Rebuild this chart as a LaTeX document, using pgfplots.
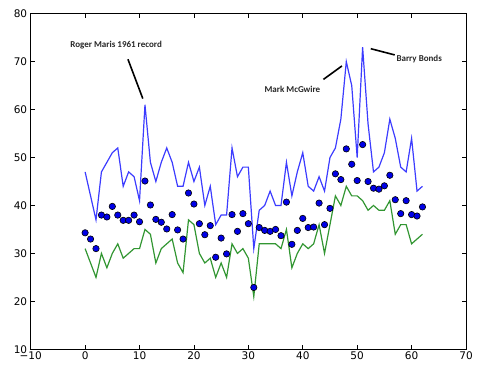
\documentclass[border=0pt]{standalone}
\usepackage{pgfplots}
\pgfplotsset{compat=1.18}
\usepackage{fontspec}
\setmainfont{DejaVu Sans}
\newfontfamily\annfont{Carlito}
\definecolor{maxblue}{RGB}{60,60,255}
\definecolor{mingreen}{RGB}{50,150,50}
\definecolor{dotblue}{RGB}{0,0,230}
\pgfplotstableread{
x max min mean
0 47 31 34.3
1 42 28 33.0
2 37 25 31.0
3 47 30 38.0
4 49 27 37.6
5 51 30 39.8
6 52 32 38.0
7 44 29 36.9
8 47 30 36.9
9 46 31 38.0
10 41 31 36.6
11 61 35 45.1
12 49 34 40.1
13 45 28 37.1
14 49 31 36.5
15 52 32 35.1
16 49 33 38.1
17 44 28 34.9
18 44 26 33.0
19 49 37 42.6
20 45 36 40.3
21 48 30 36.2
22 40 28 33.9
23 44 29 35.8
24 36 25 29.2
25 38 28 33.2
26 38 25 29.9
27 52 32 38.1
28 46 30 34.6
29 48 31 38.3
30 48 29 36.2
31 31 21 22.9
32 39 32 35.4
33 40 32 34.8
34 43 32 34.6
35 40 32 35.0
36 40 31 33.7
37 49 35 40.7
38 42 27 31.9
39 47 30 34.8
40 51 32 37.3
41 44 31 35.4
42 43 32 35.5
43 46 36 40.5
44 43 30 36.0
45 50 36 39.4
46 52 42 46.6
47 58 40 45.4
48 70 44 51.8
49 65 42 48.6
50 50 42 45.2
51 73 41 52.7
52 57 39 45.0
53 47 40 43.6
54 48 39 43.4
55 51 39 44.1
56 58 41 46.3
57 54 34 41.2
58 48 36 38.3
59 47 36 41.0
60 54 32 38.1
61 43 33 37.8
62 44 34 39.7
}\hrdata
\begin{document}
\begin{tikzpicture}
\begin{axis}[
  scale only axis,
  width=435.3pt, height=335.6pt,
  xmin=-10, xmax=70, ymin=10, ymax=80,
  xtick={-10,0,10,20,30,40,50,60,70},
  xticklabels={−10,0,10,20,30,40,50,60,70},
  ytick={10,20,30,40,50,60,70,80},
  yticklabels={10,20,30,40,50,60,70,80},
  tick label style={font=\fontsize{10.5}{12}\selectfont},
  axis line style={black, line width=0.9pt},
  major tick style={black, line width=0.7pt},
  major tick length=4pt,
  xticklabel style={yshift=1pt},
  clip=false,
]
\addplot[maxblue, line width=1.2pt, mark=none] table[x=x, y=max] {\hrdata};
\addplot[mingreen, line width=1.2pt, mark=none] table[x=x, y=min] {\hrdata};
\addplot[only marks, mark=*, mark size=3.2pt, mark options={fill=dotblue, draw=black, line width=0.6pt}] table[x=x, y=mean] {\hrdata};
\node[font=\annfont\bfseries\fontsize{9}{10}\selectfont, text=black!85] at (axis cs:5.7,73.5) {Roger Maris 1961 record};
\draw[black, line width=1.6pt] (axis cs:7.87,70.5) -- (axis cs:10.6,62.3);
\node[font=\annfont\bfseries\fontsize{9}{10}\selectfont, text=black!85] at (axis cs:38.1,64.3) {Mark McGwire};
\draw[black, line width=1.6pt] (axis cs:43.8,66.3) -- (axis cs:47.2,69.1);
\node[font=\annfont\bfseries\fontsize{9}{10}\selectfont, text=black!85] at (axis cs:61.4,70.6) {Barry Bonds};
\draw[black, line width=1.6pt] (axis cs:52.5,72.7) -- (axis cs:56.9,71.4);
\end{axis}
\pgfresetboundingbox
\path (current axis.south west) ++(-30.7pt,-21.7pt) coordinate (bl);
\path (current axis.north east) ++(19pt,13.7pt) coordinate (tr);
\useasboundingbox (bl) rectangle (tr);
\end{tikzpicture}
\end{document}
